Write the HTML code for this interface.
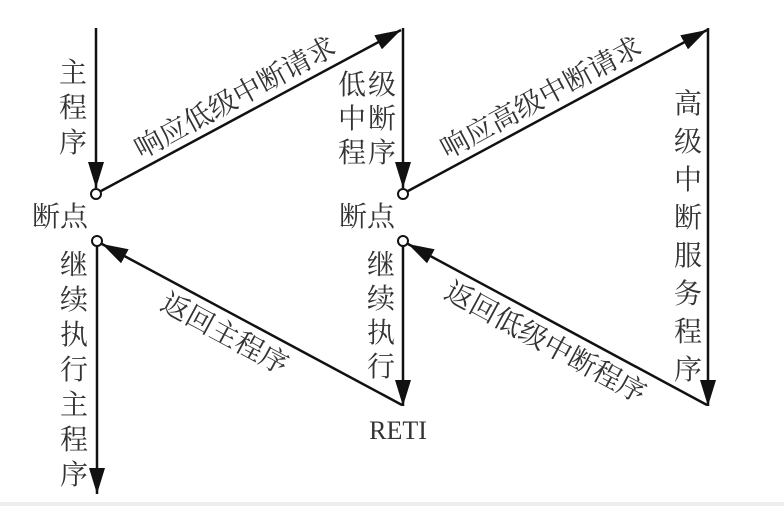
<!DOCTYPE html>
<html><head><meta charset="utf-8"><style>
body{margin:0;background:#fff;}
svg text{font-family:"Noto Serif CJK SC","Liberation Serif",serif;fill:#333;font-size:28px;}
</style></head><body>
<svg width="784" height="506" viewBox="0 0 784 506">
<defs>
<marker id="b" markerWidth="26" markerHeight="16" refX="26" refY="8" orient="auto" markerUnits="userSpaceOnUse"><path d="M0,0 L26,8 L0,16z" fill="#111"/></marker></defs>
<g stroke="#111" stroke-width="2.5" fill="none">
<line x1="96" y1="28" x2="96" y2="188" marker-end="url(#b)"/>
<line x1="101" y1="191" x2="401" y2="30" marker-end="url(#b)"/>
<line x1="403" y1="28" x2="403" y2="188" marker-end="url(#b)"/>
<line x1="408" y1="191" x2="707" y2="30" marker-end="url(#b)"/>
<line x1="708" y1="28" x2="708" y2="406" marker-end="url(#b)"/>
<line x1="707" y1="405" x2="408" y2="244" marker-end="url(#b)"/>
<line x1="403" y1="246" x2="403" y2="406" marker-end="url(#b)"/>
<line x1="402" y1="405" x2="102" y2="244" marker-end="url(#b)"/>
<line x1="97" y1="246" x2="97" y2="494" marker-end="url(#b)"/>
</g>
<g stroke="#111" stroke-width="2" fill="#fff">
<circle cx="96" cy="194" r="5"/><circle cx="97" cy="241" r="5"/>
<circle cx="403" cy="194" r="5"/><circle cx="403" cy="241" r="5"/>
</g>
<g text-anchor="middle">
<text x="73" y="82">主</text><text x="73" y="117">程</text><text x="73" y="152">序</text>
<text x="60" y="226">断点</text><text x="367" y="226">断点</text>
<text x="352" y="94">低</text><text x="382" y="94">级</text>
<text x="352" y="128">中</text><text x="382" y="128">断</text>
<text x="352" y="162">程</text><text x="382" y="162">序</text>
<text x="688" y="113">高</text><text x="688" y="151">级</text><text x="688" y="189">中</text><text x="688" y="227">断</text><text x="688" y="265">服</text><text x="688" y="303">务</text><text x="688" y="341">程</text><text x="688" y="379">序</text>
<text x="381" y="274">继</text><text x="381" y="308">续</text><text x="381" y="342">执</text><text x="381" y="376">行</text>
<text x="74" y="274">继</text><text x="74" y="309">续</text><text x="74" y="344">执</text><text x="74" y="379">行</text><text x="74" y="414">主</text><text x="74" y="449">程</text><text x="74" y="484">序</text>
<text x="398" y="439" style="font-family:'Liberation Serif',serif;font-size:26px">RETI</text>
<g transform="translate(251,110) rotate(-28.4)"><text x="-8" y="-9">响应低级中断请求</text></g>
<g transform="translate(557,110) rotate(-28.4)"><text x="-8" y="-9">响应高级中断请求</text></g>
<g transform="translate(252,325) rotate(28.4)"><text x="-20" y="30">返回主程序</text></g>
<g transform="translate(557,325) rotate(28.4)"><text x="-2" y="30">返回低级中断程序</text></g>
</g>
<rect x="0" y="502" width="784" height="4" fill="#eee"/>
</svg>
</body></html>
